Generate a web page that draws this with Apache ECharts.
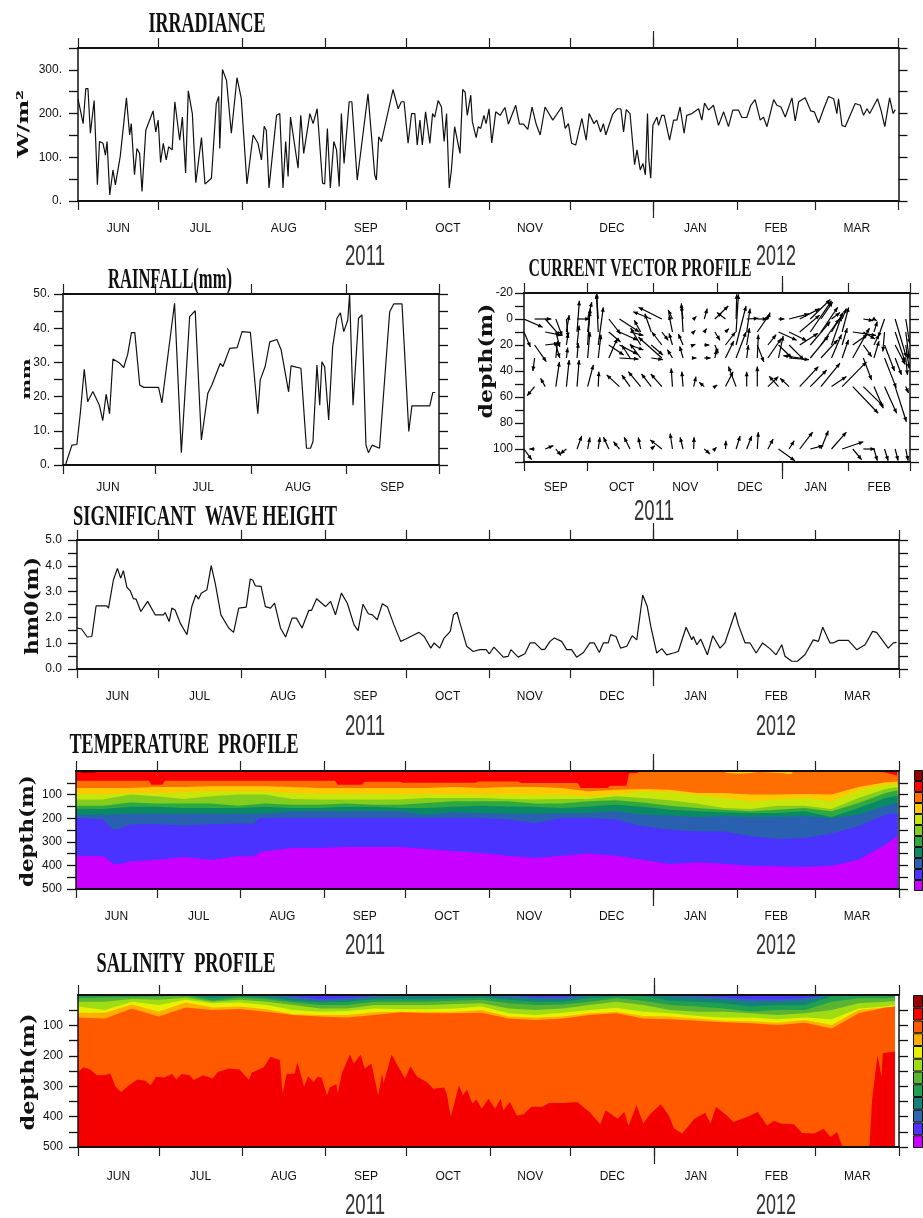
<!DOCTYPE html>
<html><head><meta charset="utf-8">
<style>html,body{margin:0;padding:0;background:#fff}#c{width:923px;height:1218px}</style>
<script src="https://cdn.jsdelivr.net/npm/echarts@6/dist/echarts.min.js"></script>
</head><body><div id="c"></div>
<script>
// ---- time axes (days since Jun 1 2011, or Sep 1 2011 for the current panel)
const monthNames=['JUN','JUL','AUG','SEP','OCT','NOV','DEC','JAN','FEB','MAR'];
const monthStarts=[0,30,61,92,122,153,183,214,245,274,305];
const monthMids=[15,45.5,76.5,107,137.5,168,198.5,229.5,259.5,289.5];
const rainMonthNames=['JUN','JUL','AUG','SEP'];
const rainStarts=[0,30,61,92,122];
const rainMids=[14.6,45.5,76.3,106.8];
const curMonthNames=['SEP','OCT','NOV','DEC','JAN','FEB'];
const curStarts=[0,30,61,91,122,153,182];
const curMids=[15,46,76,106.5,137.5,167.5];

// ---- irradiance
const irrDays=[0,.6,1.9,2.9,3.7,4.6,6,7.2,8,9.3,10.2,10.8,11.8,13,13.9,15.7,18,19.2,19.8,21,21.9,22.9,23.8,25.2,27.9,28.9,29.8,30.7,31.7,32.8,33.7,35,36,37.8,38.8,40,41,42.5,43.8,45.9,47.2,49.6,51.4,52.3,52.7,53.7,55.2,57,59.1,60.7,62.8,65.1,66.9,68.2,69.2,70,71,73.8,75,76.2,77.2,78.1,79,81.8,82.8,83.9,86.2,87.4,88.9,90.9,91.7,92.7,93.8,95.1,96.1,97.1,97.9,98.9,100.8,101.8,103.8,107.8,110.3,110.9,111.8,112.8,117.1,119,120.2,121.2,122.7,124,125.2,126.1,127.1,128,129.2,130.8,131.8,132.6,133.9,135.1,136.1,137,138,138.8,140,142,143,143.9,144.7,146,146.6,148,148.8,149.7,150.9,151.7,152.8,153.8,155.3,156.9,158.7,160,162.7,164.1,165.6,167.2,168.8,170.3,171.8,173.6,176.5,179.8,181.1,182.3,183.5,185,187.3,188.9,190,191.8,192.8,194.3,195.3,196.2,198.7,200.5,201.8,202.8,203.8,205.2,206.9,207.8,209,210,210.9,211.7,212.2,212.9,213.7,215.2,215.8,217,217.9,219.9,221.4,222.6,223.8,225.3,226.3,228.2,230.7,231.9,232.9,234.4,236.2,238.1,240,241.8,243.4,245.5,246.8,248.6,250.1,251.7,253.6,254.8,256.1,258.6,259.8,261.3,262.9,265.4,266.6,267.9,270.3,272.4,273.7,275.3,277.2,279,280.9,282.1,282.7,284,285.2,288.9,290.8,292,293.3,294.3,297.2,298.5,299.9,301.7,303,303.8];
const irrVals=[234,238,177,257,257,155,230,37,136,132,105,136,14,71,37,102,236,151,177,60,120,109,22,162,206,158,185,88,132,94,124,117,227,139,192,64,252,200,42,145,39,52,223,239,120,301,276,155,282,234,39,151,132,94,171,162,30,196,200,30,136,56,192,75,196,109,200,177,211,41,39,166,30,136,117,33,200,86,227,227,48,245,60,48,147,136,255,211,227,227,132,200,200,128,185,128,204,132,200,192,230,215,136,200,30,71,170,109,255,249,196,242,181,145,170,166,196,177,211,133,204,196,214,176,219,176,176,164,215,176,151,215,185,215,166,177,132,128,189,139,200,177,185,158,177,151,198,211,211,158,209,200,83,117,71,86,60,200,94,52,173,192,173,196,196,139,185,185,215,155,196,200,211,185,224,208,219,173,204,170,208,208,191,191,219,232,185,192,170,232,219,215,192,236,183,227,236,206,204,179,211,239,234,200,234,173,170,223,219,196,211,200,234,208,170,236,200,209];

// ---- rainfall
const rainDays=[.8,2.9,4.5,5.6,6.9,8,9.7,11.8,12.9,14,15.1,16.2,18.1,19.7,21,22.2,23.3,24.9,26.2,31,32.1,36.2,38.4,41.1,42.9,44.9,47,48.3,51,51.9,54.1,56.5,58.1,60.8,63.2,64,65.6,67.1,69.4,70.8,73.2,74,75.7,77.2,79,80.3,81.1,82.4,83.3,84,84.9,86.2,87.5,88.9,90,91.1,92.4,93,94.1,95.9,97,98.3,99.1,100.3,102.7,106,107.3,110,112.2,113.2,119,120,120.8];
const rainVals=[0,5.8,6,15,28,18.5,21.5,17.5,13,20.7,15,31,30,28.5,32.4,38.7,38.7,23.4,22.7,22.7,18.2,47.3,3.6,43.4,45.1,7.3,21,23.4,29.7,28.8,34.1,34.3,39,38.8,15,24.9,28.8,36,36.7,33.6,21.4,29,28.6,28.3,4.9,4.9,6.8,29.2,17.5,30.2,28.7,13.2,34.6,42.9,44.5,39,42.4,50,17.5,42.9,43.9,5.8,3.6,5.8,4.9,44.8,47.1,47.1,9.8,17.3,17.3,21.2,21.2];

// ---- significant wave height
const waveDays=[0,1.7,3.8,5.5,7.1,11,11.7,13.5,15,16.2,17.2,18.5,19.7,20.9,21.9,23.7,26.2,29,32.1,32.7,34.2,35.2,36.4,38.3,40.8,42.6,44.1,45.1,46.1,48.2,49.8,51.3,53.4,56.3,58.1,60,62.8,64.3,65.2,66.2,68.3,69.9,71.8,73.3,75.5,77.4,79.8,81.4,83.5,86,87,88.9,92.2,94.1,95.9,98.1,100.3,102.8,104.3,106.1,108.1,109.6,111.4,113.3,115.2,117.6,120.1,122,125.1,126.9,128.8,131.3,132.5,133.1,134.6,136.2,138.5,139.7,141,142.1,144.6,147,149.5,151.8,153,154.7,158.2,160,161,163.7,166.2,168.1,169.9,172.4,173.6,175.5,177.1,179.8,181.7,183.5,185.4,187.9,190.3,191.9,193.8,195.3,197.1,198,200,201.7,204,206,207.7,209.9,211.6,212.9,215.1,217,218.8,221.3,223.1,226,228.1,228.7,230,231.4,233.9,235.9,238.6,240.4,244.2,245.4,247.9,249.7,252,254.4,257.1,259.4,261.5,262.7,265.2,267.3,270.1,273.2,275.1,276.7,279.4,280.6,282.5,286.2,289.3,292.4,295.2,296.7,301,302.9,304.1];
const waveVals=[1.59,1.55,1.24,1.26,2.45,2.45,2.36,3.45,3.9,3.52,3.81,3.17,3.04,2.73,2.71,2.23,2.62,2.1,2.1,2.19,1.84,2.36,2.29,1.78,1.33,2.42,2.87,2.71,2.94,3.07,4.01,3.32,2.1,1.59,1.42,2.36,2.4,3.49,3.45,3.22,3.2,2.42,2.36,2.55,1.59,1.24,1.97,1.97,1.59,2.27,2.27,2.72,2.42,2.62,2.1,2.94,2.55,1.71,1.49,2.51,2.14,2.1,1.91,2.53,2.4,1.71,1.07,1.16,1.33,1.42,1.26,.81,1.01,1.03,.81,1.2,1.46,2.1,2.2,1.78,.88,.68,.75,.75,.59,.85,.46,.49,.75,.46,.59,1.01,1.01,.75,.77,1.07,1.2,1.07,.75,.75,.46,.64,1.01,1.01,.64,1.01,1.01,1.33,1.26,.81,.88,1.29,1.13,2.87,2.42,1.65,.62,.79,.55,.62,.68,1.62,1.13,1.26,.94,1.16,.55,1.29,.81,1.01,2.19,1.71,1.01,1.01,.62,1.01,.79,.55,.94,.49,.3,.3,.55,1.13,1.07,1.62,1.01,1.01,1.11,1.11,.75,.94,1.46,1.42,.81,1.01,1.03];

// ---- current vectors: one tail every 5 days at each level; u in days on the plot, v in metres
const curDepths=[0,10,20,30,52,100];
const curStep=5;
const curU0=[8.8,7.9,7,3,.8,6,2,-.8,5.5,9.4,null,null,-8.5,-11,-2,-.8,1.3,1.4,6.3,-4,.3,5.5,4.7,1,2.8,9.4,9.4,9.4,5.5,4,2,null,4.7,1.3,-3,5.3,1.9];
const curV0=[6.4,0,13,13,14,0,-13,-20,11.5,10,null,null,-5.6,-9,-7,-10,-2,-8,-10,-5,-19,-.5,0,-5,0,-4,-8,-15,-13,-5,-8,null,1.3,1.3,14,29.5,19];
const curU10=[3,null,7.9,1.9,1.3,1.1,1.3,-.8,5.5,8.6,6.3,-3,-3,3,-1.6,-.8,.8,1.1,2.4,1.6,1.1,1.6,5.5,null,8.6,8.3,9.4,10,7.9,5.5,3.1,11,5.5,1.6,-.8,4.7,1.6];
const curV10=[11.5,null,2.6,11.5,-13,-24,-18,-29,7.7,6.4,2.6,-9,-14,6.4,-13,-22,-1.3,-2.6,6.4,-2.6,-29,-18,-13,null,6.4,6.7,-13,-24,-19,-15,-19,2.6,5.4,-8,15,23,20.5];
const curU20=[null,5.5,6.3,1.9,.8,1,1.1,2.4,7,8.6,6.3,-4.7,5.5,-4.7,-1.6,-2.2,.8,2.4,1.6,4.7,4.7,1.3,3.1,3.9,6.3,7,8.6,9.4,8.6,4.7,2.4,7,3.9,2.4,4.7,4.7,1.6];
const curV20=[null,12.8,-1.3,10,-9,-15,-26,-29,7.7,7.2,3.8,-13,7.7,-10,-9,-8.5,-.5,0,6.4,-10,-30,-13,13,-8,10,11.5,-9,-18,-20,-22,-13,-8,9,-8,20,15,18];
const curU30=[null,-.8,null,.8,.6,.6,1.1,1.3,4,9,-3.9,-5,5.5,-11,-2.4,-1.6,1.3,3,.8,3.9,4.7,.8,.5,6.3,2.2,9.4,-7.7,8.6,7.9,4.7,3,7.9,3.9,2.4,5.5,3,.8];
const curV30=[null,10,null,-13,-8,-11.5,-20,-18,-15,.8,-10,-10.8,1.3,-16,-6.4,-9,0,0,-6.4,-13,-20,-10,-18,-15,-17,1.3,-1.8,-17,-14,-18,-14,-23,17,-13,23,13,13];
const curU52=[null,-3.5,-2.2,1.7,1.3,1,2.7,.3,null,-6,-3.9,-5.8,-4.6,-5.2,-.6,-.6,1.1,-2.4,1.1,3.6,-3.6,0,0,4.9,-4.4,-4.2,8.8,7.7,9,7,11.5,12,9.4,4.4,5.7,5.3,1.3];
const curV52=[null,7,-6.4,-19,-20.5,-20.5,-16.7,-11.5,null,-9,-9,-11.5,-9.7,-9.7,-14,-11.5,-7.7,-3.3,-1.3,-11.5,-15.4,-11.5,-15.4,-7.7,-8,-6.4,-15.4,-12.8,-18,-7.7,-19,20.5,15,16.7,20.5,27,5];
const curU100=[3.6,-2.5,3.8,2.4,-3,2.2,1.1,.8,-2.5,-2.8,-2.8,-1.1,1.7,-5.5,-1.1,-1.4,.2,2.7,.8,.2,1.9,2.4,.5,2.5,7.7,2.4,6.1,6.1,3.5,7,10,4.2,5.5,1.6,1.7,1.4,1.1];
const curV100=[8.2,0,-2.6,5,3.8,-10,-9,-9,-9,-5.6,-9,-9,-2.6,-7,-12,-9,-9,3.8,-1.3,-6.4,-10,-10,-13,-7.7,9,-6.4,-13,-2.6,-14,-13,-5.6,8.2,0,9,9,9,9];

// ---- temperature profile: lower depth of each colour band
const tempDays=[0,10,20,30,40,50,60,70,80,90,100,110,120,130,140,150,160,170,180,190,200,210,220,230,240,250,260,270,280,290,300,304.5];
const tempRedDays=[0,27,28,32,33,96,97,106,107,120,121,148,149,164,165,186,187,197,198,204,205,208,209,285,295,300,304.5];
const tempRedBottom=[41,41,58,58,41,41,58,58,46,46,50,50,44,44,51,51,72,72,62,62,10,8,0,0,0,6,20];
const tempOrangeBottom=[72,72,72,68,68,65,65,65,68,72,72,72,72,72,68,72,68,68,72,86,79,76,79,93,93,100,100,97,100,68,48,44];
const tempGoldBottom=[97,97,93,93,90,86,86,86,93,96,96,96,97,97,100,100,100,100,100,107,100,86,90,100,114,128,121,114,128,83,58,55];
const tempLimeBottom=[121,121,100,107,119,107,100,100,119,121,121,121,121,114,114,114,119,121,119,119,107,114,124,138,157,161,147,147,161,114,76,68];
const tempGreenBottom=[147,147,133,138,138,138,147,138,143,143,138,143,143,136,128,128,128,138,138,128,124,133,147,157,164,171,164,157,171,136,93,82];
const tempDkGreenBottom=[160,161,152,152,157,157,157,152,157,157,152,152,157,157,152,147,150,152,157,150,143,152,164,171,175,178,178,171,195,157,114,104];
const tempTealBottom=[185,185,181,181,181,181,181,181,171,171,171,171,171,185,175,178,181,181,178,178,171,185,189,195,192,195,195,192,199,185,147,136];
const tempDeepDays=[0,10,12,14,16,20,30,40,50,60,66,68,70,80,90,100,110,120,130,140,150,160,170,180,190,200,210,220,230,240,250,260,270,280,290,300,304.5];
const tempSteelBottom=[199,206,230,249,245,227,225,232,225,223,223,199,199,199,199,199,199,199,199,199,199,206,220,199,199,206,234,249,256,256,277,288,284,265,234,185,178];
const tempBlueBottom=[359,361,376,394,394,383,376,364,376,361,361,345,340,326,326,322,322,322,330,340,347,359,369,359,350,359,376,394,387,393,401,404,407,401,376,312,274];
const tempDarkDays=[1,2,7,8];
const tempDarkDepth=[0,7,7,0];
const tempTopGoldDays=[240,241,246,250,253,258,262,265,266];
const tempTopGoldDepth=[0,8,12,8,4,6,10,14,0];
const tempColors=['#8f0000','#ff0000','#ff6e00','#ffc800','#c8e60a','#82cd1e','#30a840','#0a8a64','#2a60b0','#4a32ff','#c800ff'];

// ---- salinity profile: upper depth of each colour band at salDays
const salDays=[0,10,20,30,40,50,60,70,80,90,100,110,120,130,140,150,160,170,180,190,200,210,220,230,240,250,260,270,280,290,300,303.5];
const salBlueTop=[0,0,0,0,0,0,0,0,5,14,10,3,0,0,0,0,2,8,8,0,1,0,0,3,8,14,14,10,0,0,0,0];
const salTealTop=[0,0,0,0,0,0,0,3,11,20,16,8,5,5,3,3,8,11,14,3,2,0,5,11,14,22,22,16,0,0,0,0];
const salDkGreenTop=[2,2,2,0,0,11,3,8,19,25,22,14,14,14,11,8,16,22,22,11,5,3,19,22,27,38,33,33,5,3,3,0];
const salGreenTop=[11,8,7,5,2,19,9,14,25,33,33,22,22,22,19,16,27,33,31,22,11,19,33,38,44,55,49,49,22,11,11,8];
const salLimeTop=[22,22,13,16,9,22,16,22,33,44,44,33,33,33,30,27,44,49,44,33,22,33,49,55,55,60,66,60,49,27,22,20];
const salYellowTop=[38,49,22,33,16,27,25,33,49,55,53,44,47,47,44,38,60,66,58,49,42,55,60,69,74,74,80,74,80,44,38,33];
const salGoldTop=[58,58,31,55,25,41,38,47,63,66,66,57,55,55,55,49,71,74,71,60,55,69,71,77,85,86,91,82,99,49,41,38];
const salOrangeTop=[74,77,44,71,41,49,46,55,66,71,74,66,57,60,60,58,77,82,77,66,60,77,80,85,90,93,99,91,110,60,41,38];
const salRedDays=[0,2,4.5,7,9.5,12,14,16,19,22,25,27,29,32,35,36.5,38.5,41.5,43,46.5,50,52,56,60,63.5,64.5,69,71.5,75,76,77.5,80.5,81.5,84,85.5,87.5,89,90.5,92.5,93.5,96,96.5,98,101,102.5,105,106.5,109,111.5,113,113.5,116.5,119,121.5,123.5,126,129.5,132,136,137,138.5,141.5,143,144.5,146.5,148,150,152.5,155,157,158,160.5,163,165.5,168.5,172.5,175,180.5,185.5,190,194,196,200.5,203,204.5,207.5,210,212.5,216.5,219.5,221.5,224.5,229,233,235,237,241,243.5,248.5,252.5,256,258.5,261,266,269,273.5,277,279.5,282,284,294,295,297,298.5,299,303.5];
const salRedTop=[253,238,245,264,264,258,302,319,297,278,282,297,269,271,260,278,260,264,280,264,275,253,242,245,280,256,238,203,214,324,260,258,220,302,267,286,269,271,330,304,293,324,258,196,225,196,242,225,330,258,291,196,236,275,234,269,286,308,304,324,401,297,330,311,357,344,374,341,374,341,379,352,396,392,368,368,355,355,352,385,425,379,407,385,431,363,423,392,359,396,440,456,407,387,423,368,396,418,401,385,429,414,423,425,454,456,440,467,451,500,500,346,198,269,192,186];
const salColors=['#990000','#f50000','#ff5a00','#ffaf00','#e6f000','#a0dc14','#5ab432','#1ea050','#148278','#3264b4','#5032ff','#c800ff'];

const titles=['IRRADIANCE','RAINFALL(mm)','CURRENT VECTOR PROFILE','SIGNIFICANT  WAVE HEIGHT','TEMPERATURE  PROFILE','SALINITY  PROFILE'];
const years=['2011','2012'];

// ---- build
const TICKF='"Liberation Sans",sans-serif';
const grids=[],xAxes=[],yAxes=[],series=[],graphics=[];
const mctx=document.createElement('canvas').getContext('2d');
function txt(text,cx,cy,w,font,rot,fill){
  mctx.font=font;
  const s=w/mctx.measureText(text).width;
  graphics.push({type:'text',x:cx,y:cy,rotation:rot||0,scaleX:s,scaleY:1,z:30,silent:true,
    style:{text,font,fill:fill||'#111',align:'center',verticalAlign:'middle',textAlign:'center',textVerticalAlign:'middle'}});
}
function panel(r,c){
  const g=grids.length;
  grids.push({left:r[0],top:r[2],width:r[1]-r[0],height:r[3]-r[2],containLabel:false});
  const bx=(pos,vals,len,labelCfg)=>{
    const a={type:'value',gridIndex:g,min:c.xMin||0,max:c.xMax,position:pos,z:10,
      axisLine:{show:true,onZero:false,lineStyle:{color:'#111',width:2}},
      splitLine:{show:false},
      axisTick:{show:true,customValues:vals,length:len,lineStyle:{color:'#222',width:1.2}},
      axisLabel:{show:false}};
    if(labelCfg)a.axisLabel=labelCfg;
    xAxes.push(a);
    return xAxes.length-1;
  };
  const names=c.names,mids=c.mids;
  const xi=bx('bottom',c.starts,9,{show:true,customValues:mids,margin:c.margin,fontFamily:TICKF,fontSize:12,color:'#111',
    hideOverlap:false,formatter:v=>names[mids.indexOf(v)]||''});
  bx('top',c.starts,10);
  if(c.longTick!==undefined){bx('bottom',[c.longTick],17);bx('top',[c.longTick],17);}
  const by=(pos,label)=>{
    yAxes.push({type:'value',gridIndex:g,min:c.yMin,max:c.yMax,position:pos,inverse:!!c.inverse,z:10,interval:c.yStep,
      axisLine:{show:true,onZero:false,lineStyle:{color:'#111',width:1.5}},splitLine:{show:false},
      axisTick:Object.assign({show:true,length:9,lineStyle:{color:'#111',width:1.3}},c.yTicks?{customValues:c.yTicks}:{}),
      axisLabel:label?{show:true,customValues:c.yLabels,margin:c.yMargin,fontFamily:TICKF,fontSize:12,color:'#111',hideOverlap:false,formatter:c.fmt}:{show:false}});
    return yAxes.length-1;
  };
  const yi=by('left',true);by('right',false);
  return {x:xi,y:yi};
}
function line(p,days,vals){
  series.push({type:'line',xAxisIndex:p.x,yAxisIndex:p.y,data:days.map((d,i)=>[d,vals[i]]),showSymbol:false,symbol:'none',
    silent:true,clip:true,animation:false,lineStyle:{color:'#111',width:1.2},z:5});
}
function area(p,days,vals,color,origin){
  series.push({type:'line',xAxisIndex:p.x,yAxisIndex:p.y,data:days.map((d,i)=>[d,vals[i]]),showSymbol:false,symbol:'none',
    silent:true,clip:true,animation:false,lineStyle:{width:0,opacity:0},areaStyle:{color,opacity:1,origin:origin||'end'},z:2});
}
function colorBar(r,colors){
  const g=grids.length;
  grids.push({left:r[0],top:r[2],width:r[1]-r[0],height:r[3]-r[2]});
  xAxes.push({type:'value',gridIndex:g,min:0,max:1,show:false});
  yAxes.push({type:'category',gridIndex:g,inverse:true,data:colors.map((_,i)=>i),show:false});
  series.push({type:'bar',xAxisIndex:xAxes.length-1,yAxisIndex:yAxes.length-1,barWidth:'100%',silent:true,animation:false,
    data:colors.map(col=>({value:1,itemStyle:{color:col,borderColor:'#111',borderWidth:1}}))});
}

// 1 irradiance
const p1=panel([78,898.5,48,201],{xMax:305,starts:monthStarts,names:monthNames,mids:monthMids,margin:22,longTick:214,
  yMin:0,yMax:350,yStep:50,yLabels:[0,100,200,300],yMargin:16,fmt:v=>v+'.'});
line(p1,irrDays,irrVals);
// 2 rainfall
const p2=panel([63,439,294,465],{xMax:122,starts:rainStarts,names:rainMonthNames,mids:rainMids,margin:17,
  yMin:0,yMax:50,yStep:5,yLabels:[0,10,20,30,40,50],yMargin:13,fmt:v=>v+'.'});
line(p2,rainDays,rainVals);
// 3 currents
const p3=panel([524,910,293,462],{xMax:182,starts:curStarts,names:curMonthNames,mids:curMids,margin:20,longTick:122,
  yMin:-20,yMax:110,yStep:10,inverse:true,yLabels:[-20,0,20,40,60,80,100],yMargin:11,fmt:v=>''+v});
const curRows=[[curU0,curV0],[curU10,curV10],[curU20,curV20],[curU30,curV30],[curU52,curV52],[curU100,curV100]];
const curData=[];
curRows.forEach((row,ri)=>row[0].forEach((u,k)=>{if(u!==null)curData.push([k*curStep,curDepths[ri],u,row[1][k]]);}));
series.push({type:'custom',xAxisIndex:p3.x,yAxisIndex:p3.y,data:curData,clip:true,silent:true,animation:false,z:5,
  encode:{x:0,y:1},
  renderItem(params,api){
    const d=api.value(0),z=api.value(1);
    const a=api.coord([d,z]),b=api.coord([d+api.value(2),z+api.value(3)]);
    const t=Math.atan2(b[1]-a[1],b[0]-a[0]),h=5,w=.42;
    return {type:'group',children:[
      {type:'line',shape:{x1:a[0],y1:a[1],x2:b[0],y2:b[1]},style:{stroke:'#000',lineWidth:1.2,fill:null}},
      {type:'polygon',shape:{points:[b,[b[0]-h*Math.cos(t-w),b[1]-h*Math.sin(t-w)],[b[0]-h*Math.cos(t+w),b[1]-h*Math.sin(t+w)]]},style:{fill:'#000'}}
    ]};
  }});
// 4 wave
const p4=panel([77,899,540,669],{xMax:305,starts:monthStarts,names:monthNames,mids:monthMids,margin:22,longTick:214,
  yMin:0,yMax:5,yStep:.5,yLabels:[0,1,2,3,4,5],yMargin:15,fmt:v=>v.toFixed(1)});
line(p4,waveDays,waveVals);
// 5 temperature
const depthTicks=[50,100,150,200,250,300,350,400,450,500];
const depthLabels=[100,200,300,400,500];
const p5=panel([76,899,771,889],{xMax:305,starts:monthStarts,names:monthNames,mids:monthMids,margin:22,longTick:214,
  yMin:0,yMax:500,yStep:50,yTicks:depthTicks,inverse:true,yLabels:depthLabels,yMargin:14,fmt:v=>''+v});
area(p5,tempDays,tempDays.map(()=>0),tempColors[1]);
area(p5,tempRedDays,tempRedBottom,tempColors[2]);
[tempOrangeBottom,tempGoldBottom,tempLimeBottom,tempGreenBottom,tempDkGreenBottom,tempTealBottom]
  .forEach((b,i)=>area(p5,tempDays,b,tempColors[i+3]));
area(p5,tempDeepDays,tempSteelBottom,tempColors[9]);
area(p5,tempDeepDays,tempBlueBottom,tempColors[10]);
area(p5,tempDarkDays,tempDarkDepth,tempColors[0],'start');
area(p5,tempTopGoldDays,tempTopGoldDepth,tempColors[3],'start');
colorBar([914,930,770,891],tempColors);
// 6 salinity
const p6=panel([78,899,995,1147],{xMax:305,starts:monthStarts,names:monthNames,mids:monthMids,margin:24,longTick:214,
  yMin:0,yMax:500,yStep:50,yTicks:depthTicks,inverse:true,yLabels:depthLabels,yMargin:15,fmt:v=>''+v});
area(p6,salDays,salDays.map(()=>0),salColors[10]);
[salBlueTop,salTealTop,salDkGreenTop,salGreenTop,salLimeTop,salYellowTop,salGoldTop,salOrangeTop]
  .forEach((b,i)=>area(p6,salDays,b,salColors[9-i]));
area(p6,salRedDays,salRedTop,salColors[1]);
colorBar([913,930,995,1148],salColors);

// titles, axis names, year labels
const TF='bold 30px "Liberation Serif"';
txt(titles[0],207,24,117,TF);
txt(titles[1],170,280,124,TF);
txt(titles[2],640,269,223,'bold 26px "Liberation Serif"');
txt(titles[3],205,517,264,TF);
txt(titles[4],184,745,229,TF);
txt(titles[5],186,964,179,TF);
const YF='bold 18px "DejaVu Serif"',R=Math.PI/2;
txt('W/m²',24,124,68,'bold 15px "DejaVu Serif"',R);
txt('mm',27,379,41,'bold 11px "DejaVu Serif"',R);
txt('depth(m)',487,361,115,YF,R);
txt('hm0(m)',33,606,98,YF,R);
txt('depth(m)',28,831,112,YF,R);
txt('depth(m)',29,1072,117,YF,R);
const YRF='29px "Liberation Sans"';
[[0,365,257],[1,776,257],[0,654,512],[0,365,727],[1,776,727],[0,365,946],[1,776,946],[0,365,1206],[1,776,1206]]
  .forEach(a=>txt(years[a[0]],a[1],a[2],40,YRF,0,'#333'));

const chart=echarts.init(document.getElementById('c'),null,{renderer:'canvas',width:923,height:1218});
chart.setOption({animation:false,backgroundColor:'#fff',grid:grids,xAxis:xAxes,yAxis:yAxes,series,graphic:{elements:graphics}});
</script></body></html>
